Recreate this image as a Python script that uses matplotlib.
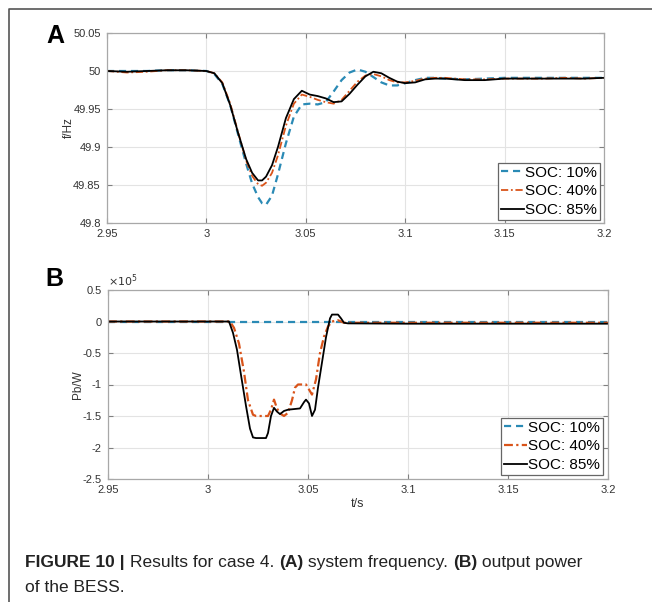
import matplotlib
matplotlib.use("Agg")
import matplotlib.pyplot as plt
from matplotlib.lines import Line2D
from matplotlib.ticker import FuncFormatter

plt.rcParams['font.family'] = ['Liberation Sans', 'DejaVu Sans']
plt.rcParams['axes.unicode_minus'] = False

# ---- panel A: system frequency (Hz) ----
t_a = [2.95, 2.96, 2.97, 2.98, 2.99, 3.0, 3.004, 3.008, 3.012, 3.016, 3.02,
       3.023, 3.026, 3.028, 3.030, 3.033, 3.036, 3.04, 3.044, 3.048, 3.052,
       3.056, 3.06, 3.064, 3.068, 3.072, 3.076, 3.08, 3.084, 3.088, 3.092,
       3.096, 3.1, 3.105, 3.11, 3.115, 3.12, 3.13, 3.14, 3.15, 3.16, 3.17,
       3.18, 3.19, 3.2]
f_soc10 = [50.000, 50.000, 50.000, 50.001, 50.001, 50.000, 49.996, 49.983,
           49.955, 49.916, 49.878, 49.852, 49.834, 49.826, 49.824, 49.836,
           49.864, 49.905, 49.940, 49.956, 49.957, 49.956, 49.959, 49.973,
           49.988, 49.998, 50.002, 49.999, 49.992, 49.985, 49.981, 49.981,
           49.984, 49.988, 49.991, 49.991, 49.990, 49.989, 49.990, 49.991,
           49.991, 49.991, 49.991, 49.991, 49.991]
f_soc40 = [50.000, 49.998, 49.999, 50.001, 50.001, 50.000, 49.997, 49.985,
           49.957, 49.919, 49.882, 49.862, 49.851, 49.849, 49.853, 49.866,
           49.889, 49.928, 49.957, 49.969, 49.966, 49.962, 49.959, 49.957,
           49.962, 49.974, 49.986, 49.994, 49.996, 49.993, 49.988, 49.985,
           49.985, 49.987, 49.990, 49.991, 49.991, 49.989, 49.989, 49.990,
           49.990, 49.990, 49.991, 49.990, 49.991]
f_soc85 = [50.000, 49.999, 50.000, 50.001, 50.001, 50.000, 49.997, 49.984,
           49.955, 49.918, 49.884, 49.866, 49.856, 49.856, 49.861, 49.876,
           49.900, 49.938, 49.963, 49.974, 49.969, 49.967, 49.964, 49.959,
           49.960, 49.970, 49.982, 49.993, 49.999, 49.997, 49.991, 49.986,
           49.984, 49.985, 49.989, 49.990, 49.990, 49.988, 49.988, 49.990,
           49.990, 49.990, 49.990, 49.990, 49.991]

# ---- panel B: BESS output power (x 1e5 W) ----
t_b10 = [2.95, 3.2]
p_soc10 = [0.0, 0.0]
t_b40 = [2.95, 3.011, 3.013, 3.0155, 3.018, 3.020, 3.0225, 3.024, 3.030,
         3.0315, 3.033, 3.0345, 3.036, 3.038, 3.040, 3.042, 3.0435, 3.045,
         3.049, 3.0505, 3.052, 3.054, 3.056, 3.058, 3.060, 3.062, 3.065,
         3.068, 3.1, 3.2]
p_soc40 = [0.0, 0.0, -0.10, -0.35, -0.80, -1.25, -1.48, -1.50, -1.50,
           -1.40, -1.24, -1.38, -1.46, -1.50, -1.45, -1.25, -1.05, -1.00,
           -1.00, -1.08, -1.16, -0.92, -0.50, -0.24, -0.08, 0.0, 0.02,
           -0.02, -0.02, -0.02]
t_b85 = [2.95, 3.0105, 3.0125, 3.0145, 3.0165, 3.019, 3.021, 3.0225, 3.024,
         3.029, 3.030, 3.0315, 3.033, 3.0345, 3.036, 3.038, 3.040, 3.043,
         3.046, 3.048, 3.049, 3.0505, 3.052, 3.0535, 3.055, 3.057, 3.059,
         3.061, 3.062, 3.065, 3.0665, 3.068, 3.07, 3.1, 3.2]
p_soc85 = [0.0, 0.0, -0.18, -0.45, -0.85, -1.34, -1.70, -1.84, -1.85,
           -1.85, -1.77, -1.50, -1.37, -1.43, -1.47, -1.42, -1.40, -1.39,
           -1.38, -1.28, -1.24, -1.30, -1.50, -1.40, -1.05, -0.65, -0.25,
           0.05, 0.11, 0.11, 0.05, -0.02, -0.03, -0.035, -0.035]

labels = ['SOC: 10%', 'SOC: 40%', 'SOC: 85%']
x_ticks = [2.95, 3.0, 3.05, 3.1, 3.15, 3.2]
f_ticks = [49.8, 49.85, 49.9, 49.95, 50.0, 50.05]
p_ticks = [-2.5, -2, -1.5, -1, -0.5, 0, 0.5]

blue = '#2a8ab5'
orange = '#d9541a'
grey_txt = '#333333'

fig = plt.figure(figsize=(6.52, 6.02), dpi=100)

ax_a = fig.add_axes([107/652, 1-223/602, 497/652, 190/602])
ax_b = fig.add_axes([108/652, 1-479/602, 500/652, 189/602])

ax_a.plot(t_a, f_soc10, color=blue, lw=1.6, dashes=(3.2, 2.2), label=labels[0])
ax_a.plot(t_a, f_soc40, color=orange, lw=1.3, dashes=(4, 1.5, 1, 1.5), label=labels[1])
ax_a.plot(t_a, f_soc85, color='black', lw=1.3, label=labels[2])

ax_b.plot(t_b10, p_soc10, color=blue, lw=1.6, dashes=(3.2, 2.2), label=labels[0])
ax_b.plot(t_b40, p_soc40, color=orange, lw=1.6, dashes=(4, 1.5, 1, 1.5), label=labels[1])
ax_b.plot(t_b85, p_soc85, color='black', lw=1.3, label=labels[2])

fmt = FuncFormatter(lambda v, pos: '%g' % round(v, 4))
for ax, yt in [(ax_a, f_ticks), (ax_b, p_ticks)]:
    ax.set_xlim(2.95, 3.2)
    ax.set_ylim(yt[0], yt[-1])
    ax.set_xticks(x_ticks)
    ax.set_yticks(yt)
    ax.xaxis.set_major_formatter(fmt)
    ax.yaxis.set_major_formatter(fmt)
    ax.grid(True, color='#e3e3e3', lw=0.8)
    ax.set_axisbelow(True)
    for s in ax.spines.values():
        s.set_color('#a8a8a8')
        s.set_linewidth(0.9)
    ax.tick_params(direction='in', length=3.5, width=0.8, color='#808080',
                   labelsize=8, labelcolor=grey_txt, pad=4.5, top=True, right=True)

ax_a.set_ylabel('f/Hz', fontsize=8.5, color=grey_txt, labelpad=-1)
ax_b.set_ylabel('Pb/W', fontsize=8.5, color=grey_txt, labelpad=-1)
ax_b.set_xlabel('t/s', fontsize=9, color=grey_txt, labelpad=2)
ax_b.text(0.0, 1.005, r'$\times10^5$', transform=ax_b.transAxes, fontsize=8,
          color=grey_txt, ha='left', va='bottom')

for ax, anchor in [(ax_a, (0.992, 0.016)), (ax_b, (0.99, 0.021))]:
    leg = ax.legend(loc='lower right', bbox_to_anchor=anchor, borderaxespad=0,
                    fontsize=11, handlelength=1.5, handletextpad=0.1,
                    labelspacing=0.3, borderpad=0.2, fancybox=False,
                    framealpha=1, edgecolor='#666666')
    leg.get_frame().set_linewidth(0.9)

fig.text(55/652, 1-36/602, 'A', fontsize=18, fontweight='bold', ha='center', va='center')
fig.text(54/652, 1-279/602, 'B', fontsize=18, fontweight='bold', ha='center', va='center')

# outer frame of the figure panel
fig.add_artist(Line2D([9/652, 9/652, 1], [0, 1-9/602, 1-9/602],
                      transform=fig.transFigure, color='#555555', lw=1.2))

# caption with mixed weights, pieces laid out one after another
pieces = [('FIGURE 10 | ', 'bold'), ('Results for case 4. ', 'normal'),
          ('(A)', 'bold'), (' system frequency. ', 'normal'), ('(B)', 'bold'),
          (' output power', 'normal')]
renderer = fig.canvas.get_renderer()
x = 25
for txt, w in pieces:
    t = fig.text(x/652, 1-567/602, txt, fontsize=12.5, fontweight=w,
                 ha='left', va='baseline', color='#222222')
    x = t.get_window_extent(renderer).x1
fig.text(25/652, 1-592/602, 'of the BESS.', fontsize=12.5, ha='left',
         va='baseline', color='#222222')

fig.savefig('out.png', dpi=100)
